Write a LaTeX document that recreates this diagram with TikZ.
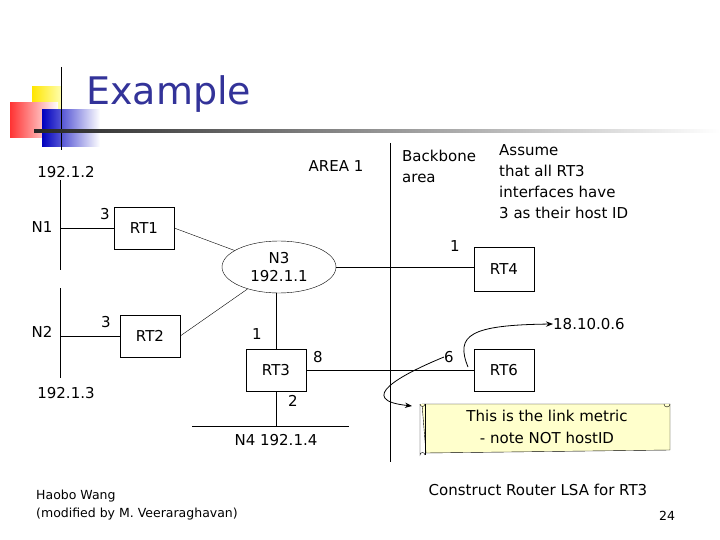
\documentclass[tikz,border=0pt]{standalone}
\usepackage{fontspec}
\setmainfont{DejaVu Sans}
\usetikzlibrary{shapes.geometric,arrows.meta}
\definecolor{titleblue}{HTML}{333399}
\definecolor{scroll}{HTML}{FFFFCC}
\begin{document}
\begin{tikzpicture}[x=1pt,y=-1pt,
  lbl/.style={font=\fontsize{15}{17}\selectfont,inner sep=0},
  box/.style={draw,thin,minimum width=60pt,minimum height=42pt,font=\fontsize{15}{17}\selectfont},
  ln/.style={draw,thin},
  arr/.style={draw,thick,-{Stealth[length=7pt]}}]
\useasboundingbox (0,0) rectangle (720,540);
% logo
\shade[left color=yellow!80!orange,right color=yellow!30] (32,87) rectangle (62,110);
\shade[left color=red!80,right color=white] (10,103) rectangle (58,138);
\shade[left color=blue!75!black,right color=white] (42,110) rectangle (100,147);
\draw[thick] (61,67) -- (61,150);
\shade[left color=black!85,right color=white] (34,130) rectangle (720,132.5);
\node[font=\fontsize{38}{42}\selectfont,text=titleblue,anchor=west,inner sep=0] (title) at (86,94) {Example};
% nodes
\node[box] (rt1) at (144,228) {RT1};
\node[box] (rt2) at (150,336) {RT2};
\node[box] (rt3) at (276,370) {RT3};
\node[box,minimum height=44pt] (rt4) at (504,269) {RT4};
\node[box] (rt6) at (504,370) {RT6};
\node[draw,thin,ellipse,minimum width=114pt,minimum height=52pt,align=center,font=\fontsize{15}{18}\selectfont,inner sep=0] (n3) at (279,267) {N3\\192.1.1};
% networks
\coordinate (n1t) at (60,180); \coordinate (n1b) at (60,270);
\coordinate (n2t) at (60,288); \coordinate (n2b) at (60,378);
\draw[ln] (n1t) -- (n1b); \draw[ln] (n2t) -- (n2b);
\coordinate (n4l) at (192,426); \coordinate (n4r) at (349,426);
\draw[ln] (n4l) -- (n4r);
\draw[ln] (n1t |- rt1.west) -- (rt1.west);
\draw[ln] (n2t |- rt2.west) -- (rt2.west);
\draw[ln] (rt1.east) -- (n3);
\draw[ln] (rt2.east) -- (n3);
\draw[ln] (n3.south -| rt3) -- (rt3.north);
\draw[ln] (rt3.south) -- (rt3.south |- n4l);
\draw[ln] (n3.east) -- (rt4.west |- n3.east);
\draw[ln] (rt3.east) -- (rt6.west);
\coordinate (dt) at (390,143); \coordinate (db) at (390,462);
\draw[ln] (dt) -- (db);
% labels
\node[lbl] (l1) at (66,172) {192.1.2};
\node[lbl] (l2) at (42,227) {N1};
\node[lbl] (l3) at (42,332) {N2};
\node[lbl] (l4) at (66,393) {192.1.3};
\node[lbl] (l5) at (105,214) {3};
\node[lbl] (l6) at (106,322) {3};
\node[lbl] (l7) at (257,334) {1};
\node[lbl] (l8) at (318,357) {8};
\node[lbl] (l9) at (293,401) {2};
\node[lbl] (l10) at (276,440) {N4 192.1.4};
\node[lbl] (l11) at (336,166) {AREA 1};
\node[lbl] (l12) at (455,246) {1};
\node[lbl] (l13) at (449,357) {6};
\node[lbl,align=left,anchor=north west,font=\fontsize{15}{21}\selectfont] (l14) at (402,150) {Backbone\\area};
\node[lbl,align=left,anchor=north west,font=\fontsize{15}{21}\selectfont] (l15) at (499,144) {Assume\\that all RT3\\interfaces have\\3 as their host ID};
\node[lbl,anchor=west] (l16) at (553,324) {18.10.0.6};
\node[lbl] (l17) at (538,490) {Construct Router LSA for RT3};
\node[lbl,align=left,anchor=north west,font=\fontsize{12.5}{18}\selectfont] (l18) at (36,490) {Haobo Wang\\(modified by M. Veeraraghavan)};
\node[lbl,font=\fontsize{12.5}{14}\selectfont] (l19) at (667,516) {24};
% scroll
\draw[thin,fill=scroll] (422,404) -- (670,404) -- (670,450) -- (426,453) -- cycle;
\draw[thin,fill=scroll] (670,404) arc (0:180:3) -- (664,404);
\draw[thin] (425,404) -- (425,455);
\draw[thin,fill=scroll] (420,404) arc (180:0:2.5);
\draw[thin] (420,404) -- (420,455) arc(180:360:2.5);
\node[lbl,align=center,font=\fontsize{15}{22}\selectfont] (sc) at (547,427) {This is the link metric\\- note NOT hostID};
% arrows
\draw[arr] (468,367) .. controls (455,335) and (470,325) .. (l16.west);
\draw[arr] (l13.west) .. controls (400,375) and (355,400) .. (412,406);
\end{tikzpicture}
\end{document}
